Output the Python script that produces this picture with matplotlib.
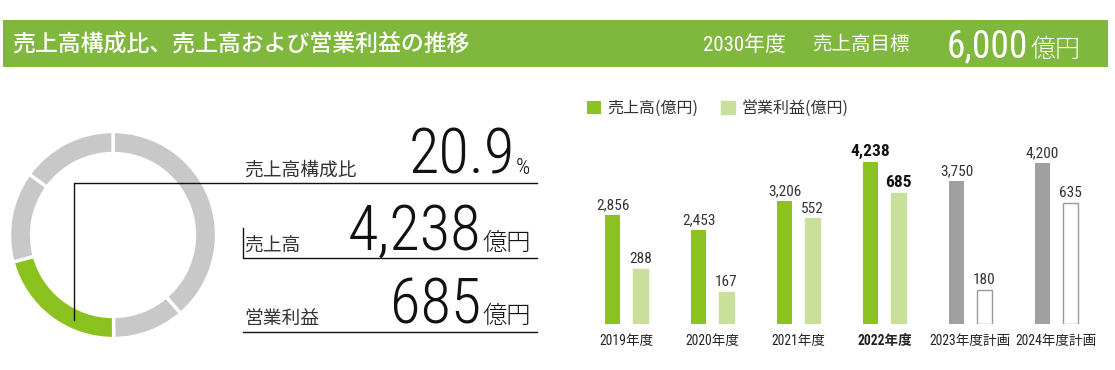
import matplotlib
matplotlib.use("Agg")
import matplotlib.pyplot as plt
from matplotlib import font_manager
from matplotlib.patches import Rectangle
import numpy as np

# --- data -------------------------------------------------------------
years = ["2019年度", "2020年度", "2021年度", "2022年度", "2023年度計画", "2024年度計画"]
sales = [2856, 2453, 3206, 4238, 3750, 4200]          # 売上高 (億円)
profit = [288, 167, 552, 685, 180, 635]               # 営業利益 (億円)
is_plan = [False, False, False, False, True, True]
current = 3                                           # 2022年度 (bold)

# 売上高構成比 donut, clockwise from 12 o'clock; the green slice is this segment
share_vals = [38.7, 11.2, 20.9, 14.2, 15.0]
share_is_self = [False, False, True, False, False]

ratio_text = "20.9"
sales_text = "4,238"
profit_text = "685"
target_text = "6,000"

# --- fonts ------------------------------------------------------------
names = {f.name for f in font_manager.fontManager.ttflist}
NARROW = next((n for n in ["Roboto Condensed", "Liberation Sans Narrow",
                           "DejaVu Sans Condensed", "Open Sans Condensed"] if n in names),
              "DejaVu Sans")
JP = "Noto Sans CJK JP"
FAM = [NARROW, JP, "DejaVu Sans"]
plt.rcParams["font.family"] = FAM

GREEN = "#8cc220"
LIGHT = "#c9df9c"
GRAY_BAR = "#a0a0a0"
RING_GRAY = "#c8c8c8"
HEAD = "#80b83e"

W, H = 1115, 370
fig = plt.figure(figsize=(W / 100, H / 100), dpi=100)


def px_axes(x0, y0, x1, y1):
    # pixel box (top-left origin) -> figure fraction axes
    return fig.add_axes([x0 / W, 1 - y1 / H, (x1 - x0) / W, (y1 - y0) / H])


# --- donut --------------------------------------------------------------
cx, cy, r = 113, 235, 103.5
axd = px_axes(cx - r, cy - r, cx + r, cy + r)
cols = [GREEN if s else RING_GRAY for s in share_is_self]
axd.pie(share_vals, colors=cols, startangle=90, counterclock=False, radius=1,
        wedgeprops=dict(width=22 / r, edgecolor="white", linewidth=2.4))
axd.set_xlim(-1, 1)
axd.set_ylim(-1, 1)
axd.axis("off")

# --- bars ---------------------------------------------------------------
base, top = 324, 130
axb = px_axes(585, top, 1105, base)
axp = axb.twinx()
x = np.arange(len(years))
off, bw = 14 / 86, 15 / 86
s_cols = [GRAY_BAR if p else GREEN for p in is_plan]
p_face = ["white" if p else LIGHT for p in is_plan]
p_edge = ["#9a9a9a" if p else LIGHT for p in is_plan]
bs = axb.bar(x - off, sales, bw, color=s_cols, label="売上高(億円)")
bp = axp.bar(x + off, profit, bw, color=p_face, edgecolor=p_edge, linewidth=1.0,
             label="営業利益(億円)")
axb.set_ylim(0, 5075)
axp.set_ylim(0, 1015)
axb.set_xlim(-0.4826, 5.564)

for ax, vals, bars in [(axb, sales, bs), (axp, profit, bp)]:
    for i, (v, b) in enumerate(zip(vals, bars)):
        bold = i == current
        ax.annotate(f"{v:,}", (b.get_x() + b.get_width() / 2, v), xytext=(0, 2),
                    textcoords="offset points", ha="center", va="bottom",
                    fontsize=12.5 if bold else 11, fontweight="bold" if bold else "normal",
                    color="#111111" if bold else "#333333")

axb.set_xticks(x)
axb.set_xticklabels(years, fontsize=9.8, color="#222222")
axb.get_xticklabels()[current].set_fontweight("bold")
axb.tick_params(axis="x", length=0, pad=7)
for ax in (axb, axp):
    ax.set_yticks([])
    for s in ax.spines.values():
        s.set_visible(False)

leg = fig.legend(handles=[bs[0], bp[0]], labels=["売上高(億円)", "営業利益(億円)"],
                 loc="upper left", bbox_to_anchor=(587 / W, 1 - 100 / H), ncol=2,
                 frameon=False, handlelength=0.85, handleheight=0.85,
                 handletextpad=0.45, columnspacing=1.4, borderpad=0, borderaxespad=0,
                 prop={"family": [JP], "size": 11.5})
for t in leg.get_texts():
    t.set_color("#333333")

# --- overlay: header, connector lines, key figures ----------------------
ov = fig.add_axes([0, 0, 1, 1])
ov.set_xlim(0, W)
ov.set_ylim(H, 0)
ov.axis("off")
ov.patch.set_alpha(0)

ov.add_patch(Rectangle((3, 20), 1105, 47, color=HEAD, lw=0))
ov.text(12, 45, "売上高構成比、売上高および営業利益の推移", color="white",
        fontsize=16.5, fontweight="medium", va="center", family=[JP])
ov.text(703, 45, "2030年度", color="white", fontsize=15, va="center")
ov.text(812, 45, "売上高目標", color="white", fontsize=14, va="center", family=[JP])
ov.text(1028, 57, target_text, color="white", fontsize=27, ha="right", va="baseline")
ov.text(1030, 57, "億円", color="white", fontsize=18, va="baseline", family=[JP],
        fontweight="light")

ink = "#111111"
ov.plot([74, 74, 537], [320, 182.5, 182.5], color=ink, lw=1.0)
ov.plot([243, 243, 537], [228, 258, 258], color=ink, lw=1.0)
ov.plot([243, 537], [332, 332], color=ink, lw=1.0)

lab = dict(fontsize=13.5, color="#333333", va="baseline", family=[JP])
ov.text(244, 176, "売上高構成比", **lab)
ov.text(244, 251, "売上高", **lab)
ov.text(244, 324, "営業利益", **lab)

big = dict(fontsize=45, color=ink, ha="right", va="baseline", fontweight="light")
ov.text(515, 174, ratio_text, **big)
ov.text(516, 174, "%", fontsize=16, color=ink, va="baseline", fontweight="light")
ov.text(481, 250, sales_text, **big)
ov.text(481, 323, profit_text, **big)
unit = dict(fontsize=17.5, color=ink, va="baseline", family=[JP], fontweight="light")
ov.text(482, 250, "億円", **unit)
ov.text(482, 323, "億円", **unit)

fig.savefig("out.png", dpi=100)
